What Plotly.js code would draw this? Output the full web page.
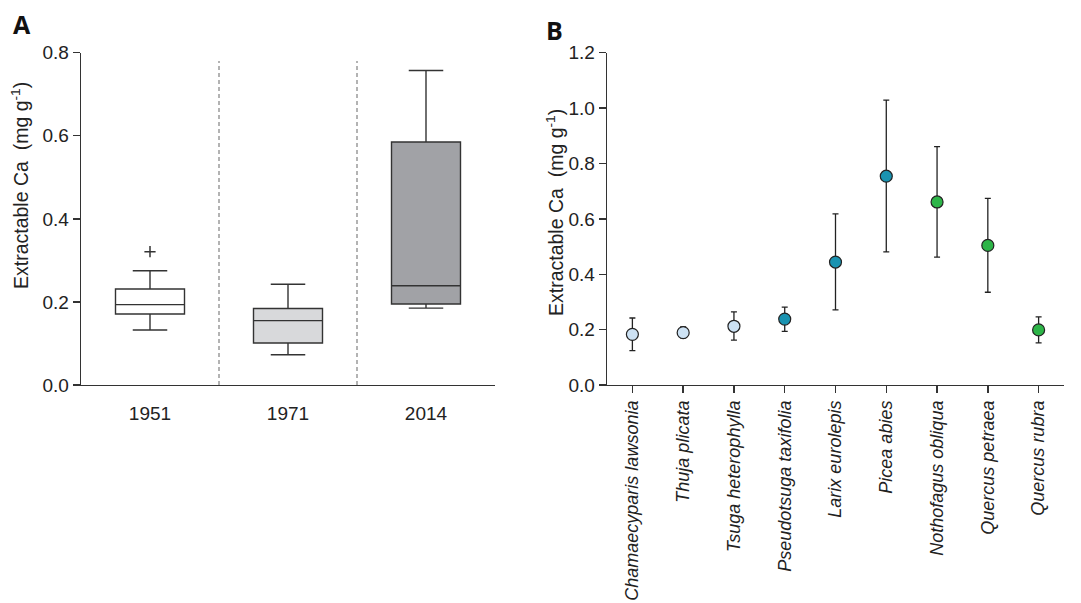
<!DOCTYPE html>
<html>
<head>
<meta charset="utf-8">
<script src="https://cdn.plot.ly/plotly-3.0.1.min.js"></script>
<style>html,body{margin:0;padding:0;background:#fff;}#chart{width:1081px;height:603px;}</style>
</head>
<body>
<div id="chart"></div>
<script>
// ---- Panel A data (box summaries) ----
const yearCats = ['1951', '1971', '2014'];
const lowerFence = [0.1325, 0.073, 0.185];
const q1Vals = [0.171, 0.101, 0.195];
const medianVals = [0.1935, 0.155, 0.239];
const q3Vals = [0.231, 0.184, 0.585];
const upperFence = [0.275, 0.2426, 0.757];
const nLabels = ['n=10', 'n=10', 'n=9'];
const outlierCats = ['1951'];
const outlierVals = [0.321];

// ---- Panel B data ----
const species = ['Chamaecyparis lawsonia', 'Thuja plicata', 'Tsuga heterophylla', 'Pseudotsuga taxifolia',
  'Larix eurolepis', 'Picea abies', 'Nothofagus obliqua', 'Quercus petraea', 'Quercus rubra'];
const meanVals = [0.183, 0.189, 0.212, 0.238, 0.444, 0.754, 0.661, 0.504, 0.199];
const upperVals = [0.242, 0.210, 0.264, 0.281, 0.618, 1.029, 0.861, 0.674, 0.246];
const lowerVals = [0.124, 0.170, 0.162, 0.194, 0.271, 0.481, 0.462, 0.335, 0.152];
const groups = ['g1', 'g1', 'g1', 'g2', 'g2', 'g2', 'g3', 'g3', 'g3'];

const boxFills = ['#ffffff', '#d8d9db', '#a1a2a6'];
const groupColors = {g1: '#cde2f4', g2: '#1a93b1', g3: '#2db548'};
const FONT = 'Liberation Sans, Arial, sans-serif';
const LINE = '#333333';

const traces = [];
yearCats.forEach((c, i) => {
  traces.push({
    type: 'box', x: [c], q1: [q1Vals[i]], median: [medianVals[i]], q3: [q3Vals[i]],
    lowerfence: [lowerFence[i]], upperfence: [upperFence[i]],
    width: 0.5, whiskerwidth: 0.5, boxpoints: false,
    fillcolor: boxFills[i], line: {color: LINE, width: 1.4},
    xaxis: 'x', yaxis: 'y', showlegend: false, hoverinfo: 'skip'
  });
});
traces.push({
  type: 'scatter', mode: 'markers', x: outlierCats, y: outlierVals,
  marker: {symbol: 'cross-thin', size: 8, line: {color: LINE, width: 1.5}},
  xaxis: 'x', yaxis: 'y', showlegend: false, hoverinfo: 'skip'
});
traces.push({
  type: 'scatter', mode: 'markers', x: species, y: meanVals,
  error_y: {type: 'data', symmetric: false,
    array: upperVals.map((u, i) => u - meanVals[i]),
    arrayminus: lowerVals.map((l, i) => meanVals[i] - l),
    color: '#222', thickness: 1.3, width: 3},
  marker: {size: 12, color: groups.map(g => groupColors[g]), line: {color: '#222', width: 1.2}},
  xaxis: 'x2', yaxis: 'y2', showlegend: false, hoverinfo: 'skip'
});

const W = 1081, H = 603;
const yDom = [(H - 385) / H, (H - 52.7) / H];
const shapes = [0.5, 1.5].map(v => ({
  type: 'line', xref: 'x', yref: 'y', x0: v, x1: v, y0: 0, y1: 0.78,
  line: {color: '#9a9a9a', width: 1.5, dash: '4px,3px'}
}));

const annotations = yearCats.map((c, i) => ({
  xref: 'x', yref: 'y', x: c, y: 0.038, text: nLabels[i], showarrow: false,
  font: {family: FONT, size: 14, color: '#222'}
}));
annotations.push(
  {xref: 'paper', yref: 'paper', x: 20 / W, y: 1 - 186 / H, xanchor: 'center', yanchor: 'middle',
   text: 'Extractable Ca  (mg g<sup>-1</sup>)',
   textangle: -90, showarrow: false, font: {family: FONT, size: 19.5, color: '#222'}},
  {xref: 'paper', yref: 'paper', x: 555 / W, y: 1 - 213 / H, xanchor: 'center', yanchor: 'middle',
   text: 'Extractable Ca  (mg g<sup>-1</sup>)',
   textangle: -90, showarrow: false, font: {family: FONT, size: 19.5, color: '#222'}},
  {xref: 'paper', yref: 'paper', x: 22 / W, y: 1 - 24 / H, xanchor: 'center', yanchor: 'middle',
   text: '<b>A</b>', showarrow: false,
   font: {family: 'Open Sans, sans-serif', size: 25, color: '#111'}},
  {xref: 'paper', yref: 'paper', x: 554 / W, y: 1 - 30 / H, xanchor: 'center', yanchor: 'middle',
   text: '<b>B</b>', showarrow: false,
   font: {family: 'Open Sans, sans-serif', size: 25, color: '#111'}}
);

const axCommon = {showgrid: false, zeroline: false, showline: true, linecolor: LINE, linewidth: 1.4,
  tickcolor: LINE, tickwidth: 1.4, tickfont: {family: FONT, size: 19, color: '#222'}};

const layout = {
  width: W, height: H, margin: {l: 0, r: 0, t: 0, b: 0},
  paper_bgcolor: '#fff', plot_bgcolor: '#fff', showlegend: false,
  xaxis: Object.assign({}, axCommon, {domain: [81 / W, 495 / W], type: 'category', range: [-0.5, 2.5],
    ticks: 'outside', ticklen: 11, tickcolor: 'rgba(0,0,0,0)', anchor: 'y'}),
  yaxis: Object.assign({}, axCommon, {domain: yDom, range: [0, 0.8], dtick: 0.2, tickformat: '.1f',
    ticks: 'outside', ticklen: 7, anchor: 'x'}),
  xaxis2: Object.assign({}, axCommon, {domain: [607 / W, 1064 / W], type: 'category', range: [-0.5, 8.5],
    ticks: 'outside', ticklen: 7, tickangle: -90, anchor: 'y2',
    tickfont: {family: FONT, size: 18, color: '#222', style: 'italic'}}),
  yaxis2: Object.assign({}, axCommon, {domain: yDom, range: [0, 1.2], dtick: 0.2, tickformat: '.1f',
    ticks: 'outside', ticklen: 7, anchor: 'x2'}),
  shapes: shapes, annotations: annotations
};

Plotly.newPlot('chart', traces, layout, {displayModeBar: false, staticPlot: true});
</script>
</body>
</html>
